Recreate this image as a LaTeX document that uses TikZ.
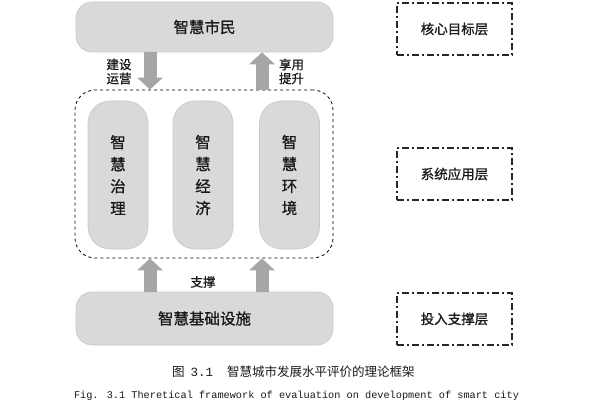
\documentclass[tikz,border=0pt]{standalone}
\usepackage{fontspec}
\setmainfont{Noto Sans CJK SC}
\newfontfamily\boxfont[FakeBold=0.9]{Noto Sans CJK SC}
\newfontfamily\monof{Liberation Mono}
\usetikzlibrary{arrows.meta}
\definecolor{boxgray}{HTML}{D9D9D9}
\definecolor{boxedge}{HTML}{C8C8C8}
\definecolor{arrgray}{HTML}{A6A6A6}
\definecolor{txt}{HTML}{1A1A1A}
\tikzset{
  x=1pt, y=-1pt,
  widebox/.style={fill=boxgray, draw=boxedge, line width=0.6pt, rounded corners=16pt,
    minimum width=257pt, minimum height=50pt, inner sep=0pt, text=txt,
    font=\boxfont\fontsize{15.5}{18}\selectfont},
  pill/.style={fill=boxgray, draw=boxedge, line width=0.6pt, rounded corners=22pt,
    minimum width=60pt, minimum height=148pt, inner sep=0pt, text=txt,
    align=center, font=\boxfont\fontsize{15.5}{22}\selectfont},
  groupbox/.style={draw=black, dashed, line width=0.8pt, rounded corners=20pt,
    minimum width=258pt, minimum height=168pt, inner sep=0pt},
  layerbox/.style={draw=black!85, dash pattern=on 7pt off 3pt on 2pt off 3pt, line width=1.4pt,
    minimum width=115pt, minimum height=52pt, inner sep=0pt, text=txt,
    font=\boxfont\fontsize{13.5}{16}\selectfont},
  bigarrow/.style={draw=arrgray, line width=13pt, -{Triangle[width=25pt,length=12pt]}},
  lbl/.style={text=txt, font=\boxfont\fontsize{12.5}{15}\selectfont, inner sep=0pt, align=center}
}
\begin{document}
\begin{tikzpicture}
\useasboundingbox (0,0) rectangle (593,411);
\fill[white] (0,0) rectangle (593,411);
\node[widebox] (citizen) at (204.5,27) {智慧市民};
\node[groupbox] (group) at (204,174) {};
\node[pill] (gov) at (118,175) {智\\慧\\治\\理};
\node[pill] (eco) at (203,175) {智\\慧\\经\\济};
\node[pill] (env) at (289.5,175) {智\\慧\\环\\境};
\node[widebox, minimum height=53pt] (infra) at (204.5,318.5) {智慧基础设施};

\node[layerbox] (l1) at (454.5,29) {核心目标层};
\node[layerbox] (l2) at (454.5,174) {系统应用层};
\node[layerbox] (l3) at (454.5,319) {投入支撑层};

\coordinate (dA) at (150,0);
\coordinate (dB) at (262,0);
\draw[bigarrow] (citizen.south -| dA) -- (group.north -| dA);
\draw[bigarrow] (group.north -| dB) -- (citizen.south -| dB);
\draw[bigarrow] (infra.north -| dA) -- (group.south -| dA);
\draw[bigarrow] (infra.north -| dB) -- (group.south -| dB);

\node[lbl] (build) at (119,71.5) {建设\\[-1pt]运营};
\node[lbl] (enjoy) at (291.5,71.5) {享用\\[-1pt]提升};
\node[lbl] (support) at (203,282) {支撑};

\node[anchor=west, inner sep=0pt, text=txt] (cap1) at (172,372)
  {\fontsize{12.5}{15}\selectfont 图\hspace{6pt}{\monof 3.1}\hspace{14pt}智慧城市发展水平评价的理论框架};
\node[inner sep=0pt, text=txt] (cap2) at (296.5,396)
  {\monof\fontsize{10.25}{12}\selectfont Fig. 3.1 Theretical framework of evaluation on development of smart city};
\end{tikzpicture}
\end{document}
